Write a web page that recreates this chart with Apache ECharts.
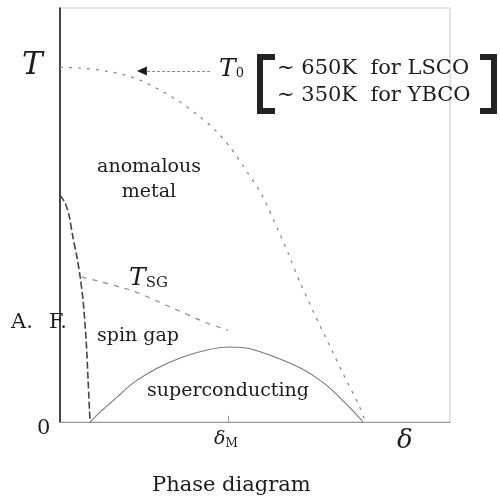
<!DOCTYPE html>
<html><head><meta charset="utf-8">
<script src="https://cdn.jsdelivr.net/npm/echarts@6/dist/echarts.min.js"></script>
<style>html,body{margin:0;padding:0;background:#fff}#c{width:500px;height:499px}</style>
</head><body><div id="c"></div>
<script>
// Phase diagram curves (doping δ in arbitrary units 0..100, temperature 0..100)
const t0Curve = [[0,85.7],[5.1,85.5],[10.3,85.0],[15.4,84.1],[20.5,82.6],[25.6,80.2],[30.8,77.3],[35.9,73.7],[39.8,70.5],[43.6,66.4],[48.2,60.1],[51.8,54.8],[55.9,46.4],[58.5,40.8],[61.5,33.8],[66.2,24.2],[68.7,19.3],[73.6,9.7],[76.4,4.6],[78.2,0.3]];
const afCurve = [[0,54.8],[1.3,52.9],[2.3,50.0],[3.3,44.7],[4.4,39.6],[5.1,35.5],[5.9,29.5],[6.7,19.8],[7.2,10.1],[7.7,0]];
const tsgCurve = [[5.6,35.0],[17.9,31.9],[29.0,27.5],[37.7,23.9],[43.1,22.2]];
const scDome = [[7.7,0],[10.3,2.4],[14.6,6.0],[18.7,9.4],[24.9,13.0],[31.5,15.7],[37.7,17.4],[43.6,18.1],[48.7,17.7],[55.1,15.7],[61.5,13.1],[65.4,10.9],[69.2,8.2],[74.4,3.4],[77.7,0]];
const arrowFromTo = [[38.5,84.8],[21.5,84.8]];
const arrowHead = [21.0,84.8];
const deltaM = 43.1;
const tickLabels = {yTop:'T', origin:'0', deltaM:'δ', deltaMsub:'M', xEnd:'δ'};
const regionLabels = ['anomalous\nmetal','spin gap','superconducting','A.','F.'];
const t0Values = ['∼ 650K  for LSCO','∼ 350K  for YBCO'];

const F = 'DejaVu Serif';
const C = '#1c1c1c';
const chart = echarts.init(document.getElementById('c'));
chart.setOption({
  animation:false,
  grid:{left:60, right:50, top:8, bottom:77, show:true, borderColor:'#c8c8c8', borderWidth:1},
  xAxis:{type:'value', min:0, max:100, axisLine:{show:true, lineStyle:{color:'#9a9a9a', width:1.2}}, axisTick:{show:false}, axisLabel:{show:false}, splitLine:{show:false}},
  yAxis:{type:'value', min:0, max:100, axisLine:{show:true, lineStyle:{color:'#111', width:1.5}}, axisTick:{show:false}, axisLabel:{show:false}, splitLine:{show:false}},
  series:[
    {type:'line', data:t0Curve, showSymbol:false, smooth:0.25, lineStyle:{color:'#8a8a8a', width:1.3, type:[3,6]},
     markLine:{silent:true, symbol:'none', label:{show:false}, lineStyle:{color:'#8a8a8a', type:[3,2], width:1},
       data:[[{coord:arrowFromTo[0]},{coord:arrowFromTo[1]}]]},
     markPoint:{silent:true, symbol:'triangle', symbolSize:[9,10], symbolRotate:90, label:{show:false}, itemStyle:{color:'#1a1a1a'},
       data:[{coord:arrowHead}]}},
    {type:'line', data:afCurve, showSymbol:false, smooth:0.3, lineStyle:{color:'#444', width:1.6, type:[7,3]}},
    {type:'line', data:tsgCurve, showSymbol:false, smooth:0.3, lineStyle:{color:'#8a8a8a', width:1.2, type:[5,6]}},
    {type:'line', data:scDome, showSymbol:false, smooth:0.25, lineStyle:{color:'#777', width:1.1},
     markLine:{silent:true, symbol:'none', label:{show:false}, lineStyle:{color:'#999', type:'solid', width:1},
       data:[[{coord:[deltaM,0]},{coord:[deltaM,1.5]}]]}}
  ],
  graphic:[
    {type:'text', left:22, top:50, style:{text:tickLabels.yTop, font:'italic 31px "'+F+'"', fill:C}},
    {type:'text', left:37, top:418, style:{text:tickLabels.origin, font:'21px "'+F+'"', fill:C}},
    {type:'text', left:214, top:430, style:{rich:{a:{font:'italic 19px "'+F+'"', fill:C}, b:{font:'12px "'+F+'"', fill:C, padding:[8,0,0,0]}}, text:'{a|'+tickLabels.deltaM+'}{b|'+tickLabels.deltaMsub+'}'}},
    {type:'text', left:397, top:428, style:{text:tickLabels.xEnd, font:'italic 26px "'+F+'"', fill:C}},
    {type:'text', left:152, top:475, style:{text:'Phase diagram', font:'21px "'+F+'"', fill:C}},
    {type:'text', x:149, y:155, style:{text:regionLabels[0], font:'19px "'+F+'"', fill:C, align:'center', lineHeight:25}},
    {type:'text', left:97, top:327, style:{text:regionLabels[1], font:'19px "'+F+'"', fill:C}},
    {type:'text', left:147, top:382, style:{text:regionLabels[2], font:'19px "'+F+'"', fill:C}},
    {type:'text', left:11, top:312, style:{text:regionLabels[3], font:'21px "'+F+'"', fill:C}},
    {type:'text', left:49, top:312, style:{text:regionLabels[4], font:'21px "'+F+'"', fill:C}},
    {type:'text', left:129, top:266, style:{rich:{a:{font:'italic 25px "'+F+'"', fill:C}, b:{font:'15px "'+F+'"', fill:C, padding:[10,0,0,0]}}, text:'{a|T}{b|SG}'}},
    {type:'text', left:219, top:57, style:{rich:{a:{font:'italic 25px "'+F+'"', fill:C}, b:{font:'13px "'+F+'"', fill:C, padding:[9,0,0,0]}}, text:'{a|T}{b|0}'}},
    {type:'text', left:277, top:58, style:{text:t0Values[0], font:'21px "'+F+'"', fill:C}},
    {type:'text', left:277, top:85, style:{text:t0Values[1], font:'21px "'+F+'"', fill:C}},
    {type:'polyline', shape:{points:[[275,57],[260,57],[260,111],[275,111]]}, style:{stroke:'#222', lineWidth:6, fill:null, lineJoin:'miter'}},
    {type:'polyline', shape:{points:[[480,57],[494,57],[494,111],[480,111]]}, style:{stroke:'#222', lineWidth:6, fill:null, lineJoin:'miter'}}
  ]
});
</script></body></html>
